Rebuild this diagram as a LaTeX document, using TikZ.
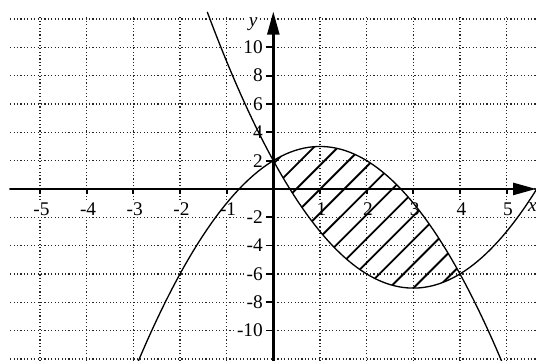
\documentclass[tikz,border=0pt]{standalone}
\usepackage{fontspec}
\setmainfont{Liberation Serif}
\usepackage{tkz-euclide}
\usetikzlibrary{arrows.meta,calc}
\definecolor{GridClr}{rgb}{0.15,0.15,0.15}
\definecolor{CurveClr}{rgb}{0,0,0}
\tikzset{gridline/.style={GridClr,line width=0.65pt,dash pattern=on 0.65pt off 1.3pt},
  axisline/.style={line width=1.4pt,-{Triangle[length=4.6mm,width=2.4mm]}},
  ticklbl/.style={fill=white,inner sep=1pt,font=\fontsize{11}{13}\selectfont},
  curve/.style={CurveClr,line width=0.75pt},
  hatch/.style={CurveClr,line width=1.05pt}}

\begin{document}
\begin{tikzpicture}[x=0.9333cm,y=0.2833cm]
\useasboundingbox (-5.857,-12.14) rectangle (5.629,13.34);
\tkzSetUpLine[line width=1.4pt,color=black]

\tkzDefPoints{-5.64/0/Xs,5.63/0/Xe,0/-12.4/Ys,0/12.52/Ye}

% grid
\foreach \y in {-12,-10,...,12} \draw[gridline] (-5.64,\y) -- (5.63,\y);
\foreach \x in {-5,...,5} \draw[gridline] (\x,-12.4) -- (\x,12.25);

% tick labels
\foreach \x in {-5,-4,-3,-2,-1,1,2,3,4,5} \node[ticklbl] (lx\x) at (\x+0.03,-1.42) {\x};
\foreach \y in {-10,-8,-6,-4,-2,2,4,6,8,10} \node[ticklbl,anchor=east] (ly\y) at (-0.18,\y) {\y};
\node[ticklbl] (xlbl) at (5.55,-1.3) {\textit{x}};
\node[ticklbl] (ylbl) at (-0.43,11.6) {\textit{y}};

% curves
\draw[curve] plot[domain=-2.9:4.9,samples=80] (\x,{-\x*\x+2*\x+2});
\draw[curve] plot[domain=-1.416:5.63,samples=80] (\x,{\x*\x-6*\x+2});

% hatching
\begin{scope}
\clip plot[domain=0:4,samples=60] (\x,{-\x*\x+2*\x+2}) -- plot[domain=4:0,samples=60] (\x,{\x*\x-6*\x+2}) -- cycle;
\foreach \k in {-3,...,11} \draw[hatch] (0.49+0.515*\k-4,-13.18) -- ++(8,26.35);
\end{scope}

% axes
\tkzDrawSegment[axisline](Xs,Xe)
\tkzDrawSegment[axisline](Ys,Ye)
\foreach \x in {-5,...,-1,1,2,...,5} \draw[line width=1pt] (\x,0) -- (\x,-0.35);
\foreach \y in {-10,-8,-6,-4,-2,2,4,6,8,10} \draw[line width=1pt] (0,\y) -- (-0.15,\y);

\end{tikzpicture}
\end{document}
